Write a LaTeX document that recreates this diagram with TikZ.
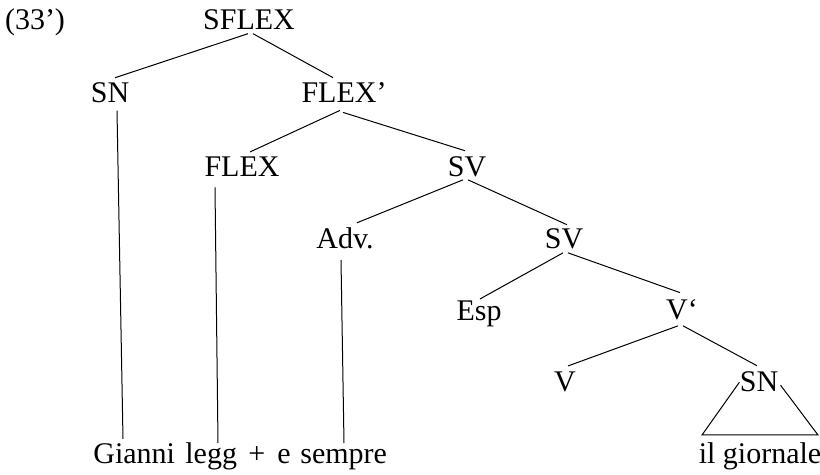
\documentclass[tikz,border=0pt]{standalone}
\usepackage{fontspec}
\setmainfont{Liberation Serif}
\usetikzlibrary{calc}
\begin{document}
\begin{tikzpicture}[x=0.5pt,y=-0.5pt,
  lab/.style={inner sep=0pt, anchor=base, font=\fontsize{15}{18}\selectfont},
  word/.style={lab, anchor=base west},
  edge/.style={line width=0.5pt, draw=black}]
\useasboundingbox (0,0) rectangle (820,475);
% labels
\node[lab] (ex) at (35,30) {(33’)};
\node[lab] (sflex) at (249,30) {SFLEX};
\node[lab] (sn) at (110,103) {SN};
\node[lab] (flexp) at (344,103) {FLEX’};
\node[lab] (flex) at (242,177) {FLEX};
\node[lab] (sv1) at (467,177) {SV};
\node[lab] (adv) at (345,249) {Adv.};
\node[lab] (sv2) at (564,249) {SV};
\node[lab] (esp) at (479,321) {Esp};
\node[lab] (vbar) at (682,320) {V‘};
\node[lab] (v) at (565,392) {V};
\node[lab] (sn2) at (759,392) {SN};
% words of the sentence
\node[word] (gianni) at (93,464) {Gianni};
\node[word] (legg) at (185,464) {legg};
\node[word] (plus) at (248,464) {+};
\node[word] (e) at (277,464) {e};
\node[word] (sempre) at (300,464) {sempre};
\node[lab] (obj) at (760,464) {il giornale};
% free ends above the words
\coordinate (gianniT) at (123,439);
\coordinate (leggT) at (218,443);
\coordinate (sempreT) at (344,443);
\coordinate (tl) at (702,435);
\coordinate (tr) at (818,435);
% connectors
\draw[edge] ($(sflex.south)+(-1,3)$) -- ($(sn.north)+(5,-5)$);
\draw[edge] ($(sflex.south)+(4,3)$) -- ($(flexp.north)+(-11,-5)$);
\draw[edge] ($(sn.south)+(7,7)$) -- (gianniT);
\draw[edge] ($(flexp.south)+(-4,7)$) -- ($(flex.north)+(8,-5)$);
\draw[edge] ($(flexp.south)+(-1,9)$) -- ($(sv1.north)+(-2,-6)$);
\draw[edge] ($(flex.south)+(-27,10)$) -- (leggT);
\draw[edge] ($(sv1.south)+(-4,2)$) -- ($(adv.north)+(12,-5)$);
\draw[edge] ($(sv1.south)+(1,2)$) -- ($(sv2.north)+(3,-4)$);
\draw[edge] ($(adv.south)+(-4,10)$) -- (sempreT);
\draw[edge] ($(sv2.south)+(-1,3)$) -- ($(esp.north)+(1,-2)$);
\draw[edge] ($(sv2.south)+(4,3)$) -- ($(vbar.north)+(-2,-7)$);
\draw[edge] ($(vbar.south)+(-4,5)$) -- ($(v.north)+(3,-6)$);
\draw[edge] ($(vbar.south)+(1,5)$) -- ($(sn2.north)+(-2,-6)$);
\draw[edge] (sn2.west) -- (tl) -- (tr) -- ($(sn2.east)+(2,3)$);
\end{tikzpicture}
\end{document}
